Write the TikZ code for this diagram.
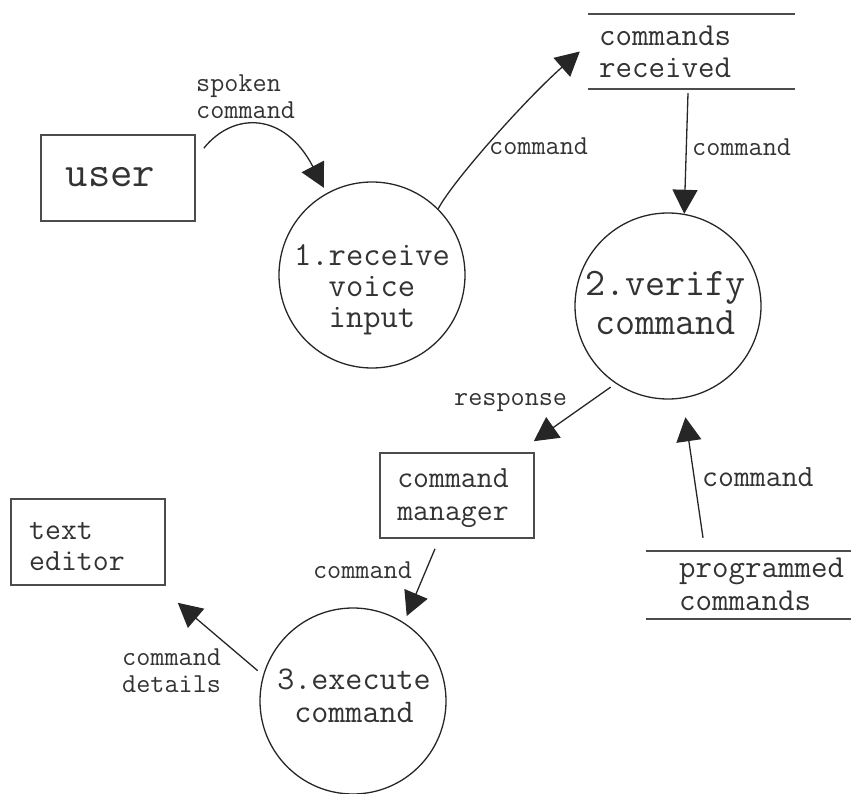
\documentclass[tikz,border=0pt]{standalone}
\usepackage{fontspec}
\usetikzlibrary{arrows.meta,calc}
\newcommand{\tsz}[2]{\ttfamily\fontsize{#1}{#2}\selectfont}
\begin{document}
\begin{tikzpicture}[x=1pt,y=-1pt,
  proc/.style={circle, draw=black!85, line width=1.3pt, minimum size=186pt, inner sep=0pt},
  entity/.style={rectangle, draw=black!70, line width=1.6pt, inner sep=0pt},
  store/.style={rectangle, inner sep=0pt},
  storeline/.style={draw=black!70, line width=2.2pt},
  flow/.style={draw=black!85, line width=1.3pt, -{Triangle[length=24pt,width=25pt]}},
  txt/.style={inner sep=0pt, text=black!80},
  lbl/.style={inner sep=0pt, text=black!80, align=left, font=\tsz{27.4}{27}}]
\useasboundingbox (0,0) rectangle (851,794);

% external entities
\node[entity, minimum width=154pt, minimum height=86pt] (user) at (118,178) {};
\node[txt, font=\tsz{43.4}{40}] (usertext) at (110.5,177) {user};
\node[entity, minimum width=154pt, minimum height=85pt] (mgr) at (457,495.5) {};
\node[txt, align=center, font=\tsz{30.9}{33}] (mgrtext) at (453,498.5) {command\\manager};
\node[entity, minimum width=154pt, minimum height=86pt] (editor) at (88,542) {};
\node[txt, align=left, font=\tsz{30.9}{31}, anchor=west] (editortext) at (29,546.5) {text\\editor};

% processes
\node[proc] (p1) at (372,275) {};
\node[txt, align=center, font=\tsz{33.6}{31}] (p1text) at (372,290) {1.receive\\voice\\input};
\node[proc] (p2) at (668,306) {};
\node[txt, align=center, font=\tsz{38.9}{39}] (p2text) at (665.5,302.5) {2.verify\\command};
\node[proc] (p3) at (353,701) {};
\node[txt, align=center, font=\tsz{33.1}{33}] (p3text) at (354,695.5) {3.execute\\command};

% data stores
\node[store, minimum width=207pt, minimum height=75pt] (s1) at (691.5,51.5) {};
\draw[storeline] (s1.north west) -- (s1.north east);
\draw[storeline] (s1.south west) -- (s1.south east);
\node[txt, align=left, anchor=west, font=\tsz{32}{32}] (s1text) at (599,52) {commands\\received};
\node[store, minimum width=205pt, minimum height=68pt] (pc) at (748.5,585) {};
\draw[storeline] (pc.north west) -- (pc.north east);
\draw[storeline] (pc.south west) -- (pc.south east);
\node[txt, align=left, anchor=west, font=\tsz{32}{33}] (pctext) at (679,584.5) {programmed\\commands};

% data flows
\coordinate (uout) at ($(user.north east)+(8,14)$);
\draw[flow, shorten >=6pt] (uout) .. controls ($(uout)+(30,-37)$) and ($(p1.119)+(-42,-81)$) .. (p1.119);
\node[lbl, anchor=west] (l1) at (196,96.5) {spoken\\command};

\coordinate (s1in) at ($(s1.west)+(-8,0)$);
\draw[flow] (p1.45) .. controls ($(p1.45)+(14,-27)$) and ($(s1in)+(-55,48.5)$) .. (s1in);
\node[lbl, anchor=west] (l2) at (489,146) {command};

\draw[flow] ($(s1.south)+(-3.5,4)$) -- (p2.80);
\node[lbl, anchor=west] (l3) at (692,147) {command};

\coordinate (mgrin) at ($(mgr.north east)+(-1,-11)$);
\draw[flow, shorten <=6pt] (p2.236) -- (mgrin);
\node[lbl, anchor=west] (l4) at (454,403) {response};

\draw[flow, shorten >=7pt] ($(mgr.south)+(-22,10)$) -- (p3.57);
\node[lbl] (l5) at (362.5,570) {command};

\coordinate (edin) at ($(editor.south east)+(12,17)$);
\draw[flow, shorten <=7pt] (p3.164) -- (edin);
\node[lbl, anchor=west] (l6) at (122,670.5) {command\\details};

\draw[flow, shorten >=19pt] ($(pc.north)+(-45.5,-13)$) -- (p2.279);
\node[lbl, anchor=west, font=\tsz{30.9}{30}] (l7) at (702,477) {command};
\end{tikzpicture}
\end{document}
